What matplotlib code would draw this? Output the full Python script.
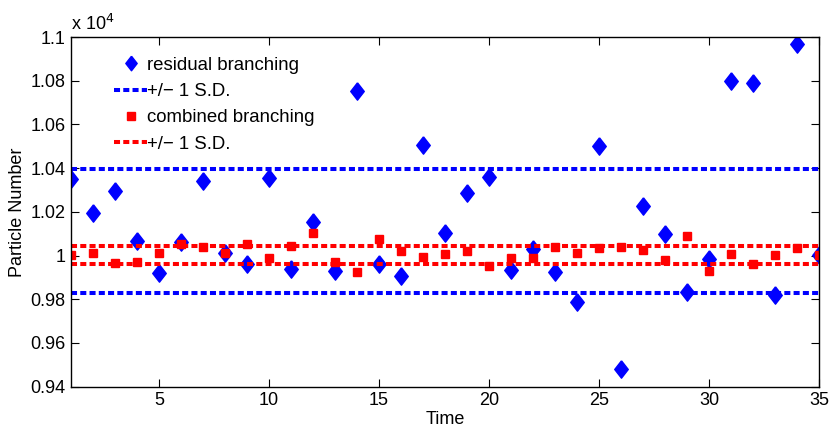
import matplotlib
matplotlib.use("Agg")
import matplotlib.pyplot as plt
from matplotlib.ticker import FuncFormatter, FixedLocator
from matplotlib.lines import Line2D
import numpy as np

time = list(range(1, 36))
residual = [10350, 10194, 10295, 10068, 9921, 10060, 10340, 10013, 9961, 10353,
            9940, 10153, 9930, 10754, 9961, 9907, 10504, 10101, 10286, 10361,
            9934, 10030, 9923, 9789, 10501, 9480, 10225, 10097, 9834, 9985,
            10799, 10788, 9818, 10968, 10001]
combined = [10001, 10013, 9967, 9972, 10013, 10053, 10039, 10013, 10054, 9987,
            10043, 10104, 9970, 9924, 10074, 10019, 9992, 10007, 10021, 9950,
            9990, 9988, 10038, 10011, 10033, 10039, 10025, 9979, 10091, 9930,
            10007, 9962, 10001, 10033, 10001]
residual_sd = [9827, 10397]
combined_sd = [9962, 10045]
yticks = [9400, 9600, 9800, 10000, 10200, 10400, 10600, 10800, 11000]
xticks = [5, 10, 15, 20, 25, 30, 35]
labels = ['residual branching', '+/\u2212 1 S.D.', 'combined branching', '+/\u2212 1 S.D.']

plt.rcParams['font.family'] = ['Liberation Sans', 'DejaVu Sans']
fig = plt.figure(figsize=(8.3, 4.26), dpi=100)
ax = fig.add_axes([0.0855, 0.0925, 0.9012, 0.8205])

diamond = [(0, 1), (0.78, 0), (0, -1), (-0.78, 0), (0, 1)]
ls = (0, (1.5, 0.8))
blue = '#0000ff'
red = '#ff0000'
ax.plot(time, residual, marker=diamond, color=blue, markersize=12.5, linestyle='none')
for v in residual_sd:
    ax.plot([1, 35], [v, v], color=blue, lw=2.9, linestyle=ls)
ax.plot(time, combined, 's', color=red, markersize=5.5, linestyle='none')
for v in combined_sd:
    ax.plot([1, 35], [v, v], color=red, lw=2.9, linestyle=ls)

ax.set_xlim(1, 35)
ax.set_ylim(9400, 11000)
ax.xaxis.set_major_locator(FixedLocator(xticks))
ax.yaxis.set_major_locator(FixedLocator(yticks))
ax.yaxis.set_major_formatter(FuncFormatter(lambda v, p: ('%g' % (v / 1e4))))
ax.tick_params(direction='in', top=True, right=True, labelsize=13, length=6, width=0.8, pad=4)
for s in ax.spines.values():
    s.set_linewidth(1.0)
ax.set_xlabel('Time', fontsize=13, labelpad=1)
ax.set_ylabel('Particle Number', fontsize=13, labelpad=3)
ax.text(0.0, 1.008, 'x 10$^4$', transform=ax.transAxes, fontsize=13, ha='left', va='bottom')

proxies = [Line2D([], [], marker=diamond, color=blue, markersize=10.5, linestyle='none'),
           Line2D([], [], color=blue, lw=2.9, linestyle=ls),
           Line2D([], [], marker='s', color=red, markersize=5.5, linestyle='none'),
           Line2D([], [], color=red, lw=2.9, linestyle=ls)]
leg = ax.legend(proxies, labels,
                loc='upper left', bbox_to_anchor=(0.048, 0.965), frameon=False,
                fontsize=13.4, handlelength=1.75, handletextpad=0.0, labelspacing=0.5,
                numpoints=1, borderaxespad=0)
fig.savefig('out.png', dpi=100)
